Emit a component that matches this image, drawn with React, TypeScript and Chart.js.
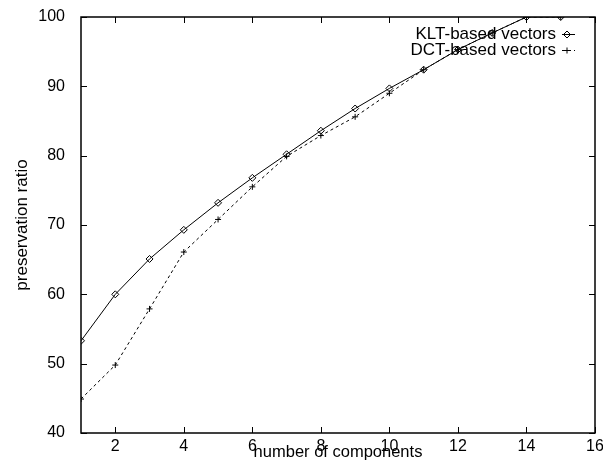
import React, { useEffect, useRef } from "react";
import { Chart, registerables } from "chart.js";
import { drawPoint } from "chart.js/helpers";

Chart.register(...registerables);

const components = [1, 2, 3, 4, 5, 6, 7, 8, 9, 10, 11, 12, 13, 14, 15];
const kltValues = [53.3, 60.0, 65.1, 69.3, 73.2, 76.8, 80.2, 83.6, 86.8, 89.7, 92.4, 95.3, 97.7, 100, 100];
const dctValues = [44.9, 49.8, 57.9, 66.1, 70.8, 75.5, 79.9, 82.9, 85.6, 89.0, 92.4, 95.3, 97.7, 100, 100];
const seriesLabels = ["KLT-based vectors", "DCT-based vectors"];
const xTickValues = [2, 4, 6, 8, 10, 12, 14, 16];
const xTitle = "number of components";
const yTitle = "preservation ratio";

const FONT = "'Liberation Sans', Arial, Helvetica, sans-serif";
const FS = 16;

const framePlugin = {
  id: "gnuFrame",
  beforeDatasetsDraw(chart: any) {
    const { ctx, chartArea: a, scales } = chart;
    ctx.save();
    ctx.strokeStyle = "#000";
    ctx.lineWidth = 1.5;
    ctx.strokeRect(a.left, a.top, a.right - a.left, a.bottom - a.top);
    ctx.lineWidth = 1;
    const tl = 6;
    ctx.beginPath();
    scales.x.ticks.forEach((t: any) => {
      const px = Math.round(scales.x.getPixelForValue(t.value)) + 0.5;
      ctx.moveTo(px, a.bottom);
      ctx.lineTo(px, a.bottom - tl);
      ctx.moveTo(px, a.top);
      ctx.lineTo(px, a.top + tl);
    });
    scales.y.ticks.forEach((t: any) => {
      const py = Math.round(scales.y.getPixelForValue(t.value)) + 0.5;
      ctx.moveTo(a.left, py);
      ctx.lineTo(a.left + tl, py);
      ctx.moveTo(a.right, py);
      ctx.lineTo(a.right - tl, py);
    });
    ctx.stroke();
    ctx.restore();
  },
  afterDatasetsDraw(chart: any) {
    const { ctx, chartArea: a } = chart;
    ctx.save();
    ctx.font = `17px ${FONT}`;
    ctx.fillStyle = "#000";
    ctx.textAlign = "right";
    ctx.textBaseline = "middle";
    const textRight = a.right - 39;
    const lineStart = a.right - 33;
    const lineEnd = a.right - 20;
    chart.data.datasets.forEach((ds: any, i: number) => {
      const y = a.top + 17 + i * 16;
      ctx.fillText(ds.label, textRight, y);
      ctx.save();
      ctx.strokeStyle = ds.borderColor;
      ctx.lineWidth = ds.borderWidth;
      ctx.setLineDash(ds.borderDash || []);
      ctx.beginPath();
      ctx.moveTo(lineStart, y + 0.5);
      ctx.lineTo(lineEnd, y + 0.5);
      ctx.stroke();
      ctx.restore();
      ctx.save();
      ctx.strokeStyle = ds.pointBorderColor;
      ctx.fillStyle = ds.pointBackgroundColor;
      ctx.lineWidth = ds.pointBorderWidth;
      drawPoint(ctx, { pointStyle: ds.pointStyle, radius: ds.pointRadius, rotation: 0, borderWidth: ds.pointBorderWidth }, lineStart + 5, y + 0.5);
      ctx.restore();
    });
    ctx.restore();
  },
};

export default function App() {
  const ref = useRef<HTMLCanvasElement>(null);
  useEffect(() => {
    const canvas = ref.current!;
    const chart = new Chart(canvas, {
      type: "line",
      data: {
        datasets: [
          {
            label: seriesLabels[0],
            data: components.map((c, i) => ({ x: c, y: kltValues[i] })),
            borderColor: "#000",
            borderWidth: 1,
            pointStyle: "rectRot",
            pointRadius: 3.5,
            pointBorderWidth: 1,
            pointBorderColor: "#000",
            pointBackgroundColor: "rgba(0,0,0,0)",
            tension: 0,
          },
          {
            label: seriesLabels[1],
            data: components.map((c, i) => ({ x: c, y: dctValues[i] })),
            borderColor: "#000",
            borderWidth: 1,
            borderDash: [3, 3],
            pointStyle: "cross",
            pointRadius: 3,
            pointBorderWidth: 1,
            pointBorderColor: "#000",
            pointBackgroundColor: "rgba(0,0,0,0)",
            tension: 0,
          },
        ],
      },
      options: {
        responsive: false,
        animation: false,
        layout: { padding: { top: 17, right: 8, left: 0, bottom: 0 } },
        plugins: { legend: { display: false }, tooltip: { enabled: false } },
        scales: {
          x: {
            type: "linear",
            min: 1,
            max: 16,
            grid: { display: false },
            border: { display: false },
            ticks: {
              stepSize: 2,
              padding: -4,
              color: "#000",
              font: { family: FONT, size: FS },
              maxRotation: 0,
            },
            afterBuildTicks: (scale: any) => {
              scale.ticks = xTickValues.map((v) => ({ value: v }));
            },
            afterFit: (scale: any) => {
              scale.height = 33;
              scale.paddingLeft = 0;
              scale.paddingRight = 0;
            },
            title: {
              display: true,
              text: xTitle,
              color: "#000",
              font: { family: FONT, size: 16.5 },
              padding: { top: 0, bottom: 4 },
            },
          },
          y: {
            min: 40,
            max: 100,
            grid: { display: false },
            border: { display: false },
            ticks: {
              stepSize: 10,
              padding: 8,
              color: "#000",
              font: { family: FONT, size: FS },
            },
            afterFit: (scale: any) => {
              scale.width = 81;
              scale.paddingTop = 0;
              scale.paddingBottom = 0;
            },
            title: {
              display: true,
              text: yTitle,
              color: "#000",
              font: { family: FONT, size: 17 },
              padding: { top: 12, bottom: 0 },
            },
          },
        },
      },
      plugins: [framePlugin],
    });
    return () => chart.destroy();
  }, []);
  return (
    <canvas
      ref={ref}
      width={603}
      height={466}
      style={{ position: "absolute", left: 0, top: 0, width: 603, height: 466, background: "#fff" }}
    />
  );
}
